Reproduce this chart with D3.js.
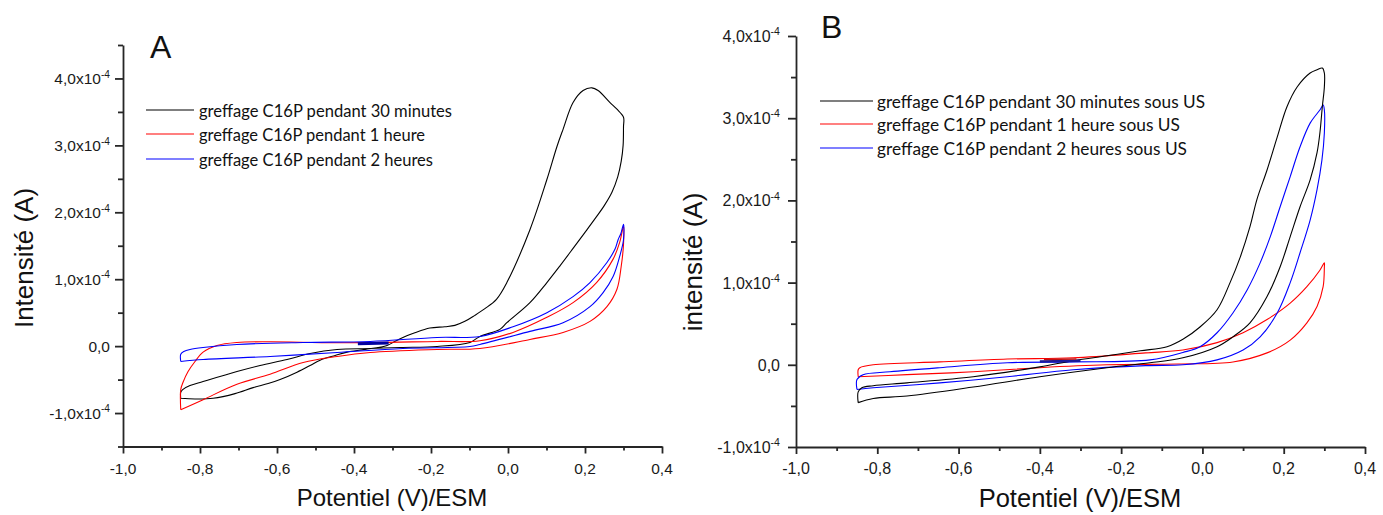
<!DOCTYPE html>
<html><head><meta charset="utf-8">
<script src="https://cdn.jsdelivr.net/npm/d3@7"></script>
<style>body{margin:0;background:#fff} svg{display:block}</style>
</head><body><svg id="c" width="1383" height="515"></svg>
<script>
const unit = 1e-4; // currents below are given in units of 1e-4 A
const xTickValues = [-1.0,-0.8,-0.6,-0.4,-0.2,0.0,0.2,0.4];
const xTickLabels = ["-1,0","-0,8","-0,6","-0,4","-0,2","0,0","0,2","0,4"];
const xMinorValues = [-0.9,-0.7,-0.5,-0.3,-0.1,0.1,0.3];
const yTickValues = [-1,0,1,2,3,4];
const yTickLabels = ["-1,0x10","0,0","1,0x10","2,0x10","3,0x10","4,0x10"];
const yTickExp = ["-4","","-4","-4","-4","-4"];
const yMinorA = [-1.5,-0.5,0.5,1.5,2.5,3.5,4.5];
const yMinorB = [-0.5,0.5,1.5,2.5,3.5];

const legendA = ["greffage C16P pendant 30 minutes","greffage C16P pendant 1 heure","greffage C16P pendant 2 heures"];
const legendB = ["greffage C16P pendant 30 minutes sous US","greffage C16P pendant 1 heure sous US","greffage C16P pendant 2 heures sous US"];

// Panel A: [potential V, current 1e-4 A]
const A_30min = [[-0.85,-0.78],[-0.813,-0.79],[-0.766,-0.78],[-0.709,-0.71],[-0.662,-0.62],[-0.623,-0.56],[-0.592,-0.50],[-0.548,-0.39],[-0.514,-0.29],[-0.488,-0.21],[-0.449,-0.14],[-0.418,-0.09],[-0.371,-0.05],[-0.314,0.01],[-0.294,0.07],[-0.273,0.13],[-0.242,0.20],[-0.203,0.27],[-0.164,0.29],[-0.138,0.31],[-0.112,0.37],[-0.086,0.46],[-0.060,0.56],[-0.03,0.70],[-0.003,0.95],[0.057,1.74],[0.101,2.49],[0.127,2.98],[0.143,3.24],[0.169,3.64],[0.195,3.82],[0.218,3.86],[0.234,3.82],[0.265,3.64],[0.283,3.54],[0.3,3.42],
 [0.3,3.28],[0.299,3.0],[0.294,2.76],[0.285,2.53],[0.27,2.3],[0.25,2.1],[0.228,1.92],[0.2,1.7],[0.169,1.46],[0.135,1.2],[0.101,0.95],[0.057,0.65],[-0.003,0.35],[-0.021,0.25],[-0.073,0.145],[-0.099,0.055],[-0.184,-0.005],[-0.28,-0.02],[-0.358,-0.035],[-0.444,-0.05],[-0.514,-0.11],[-0.574,-0.2],[-0.644,-0.29],[-0.704,-0.38],[-0.792,-0.53],[-0.826,-0.59],[-0.845,-0.65],[-0.85,-0.69],[-0.85,-0.78]];
const A_1h = [[-0.85,-0.95],[-0.792,-0.80],[-0.704,-0.57],[-0.618,-0.42],[-0.532,-0.245],[-0.444,-0.155],[-0.358,-0.095],[-0.184,-0.05],[-0.073,-0.035],[0.057,0.10],[0.143,0.205],[0.213,0.37],[0.257,0.59],[0.283,0.85],[0.294,1.19],[0.3,1.52],[0.3,1.79],
 [0.29,1.55],[0.273,1.3],[0.23,0.95],[0.169,0.65],[0.101,0.43],[0.013,0.205],[-0.073,0.08],[-0.184,0.07],[-0.444,0.05],[-0.618,0.065],[-0.704,0.055],[-0.756,0.01],[-0.792,-0.09],[-0.813,-0.23],[-0.831,-0.38],[-0.844,-0.54],[-0.85,-0.65],[-0.85,-0.95]];
const A_2h = [[-0.85,-0.23],[-0.792,-0.2],[-0.618,-0.155],[-0.444,-0.095],[-0.273,-0.035],[-0.099,-0.005],[-0.073,0.025],[0.057,0.22],[0.143,0.35],[0.213,0.59],[0.247,0.80],[0.273,1.04],[0.29,1.34],[0.3,1.59],[0.3,1.82],
 [0.293,1.68],[0.286,1.59],[0.278,1.45],[0.257,1.25],[0.213,0.95],[0.169,0.74],[0.101,0.50],[0.013,0.29],[-0.073,0.145],[-0.184,0.13],[-0.358,0.07],[-0.532,0.055],[-0.704,0.025],[-0.792,-0.02],[-0.826,-0.05],[-0.842,-0.08],[-0.85,-0.12],[-0.85,-0.23]];
const A_start = [[-0.39,0.035],[-0.31,0.045]];

// Panel B
const B_30min = [[-0.847,-0.46],[-0.81,-0.41],[-0.727,-0.38],[-0.564,-0.27],[-0.4,-0.145],[-0.235,-0.035],[-0.129,0.025],[-0.048,0.085],[0.036,0.22],[0.075,0.34],[0.117,0.51],[0.159,0.83],[0.191,1.19],[0.216,1.56],[0.24,1.92],[0.265,2.25],[0.282,2.58],[0.289,2.82],[0.295,3.14],[0.3,3.38],[0.3,3.55],[0.295,3.61],
 [0.282,3.59],[0.265,3.55],[0.233,3.38],[0.208,3.14],[0.184,2.77],[0.159,2.37],[0.134,2.01],[0.117,1.68],[0.093,1.31],[0.068,1.00],[0.036,0.67],[-0.006,0.46],[-0.048,0.31],[-0.087,0.22],[-0.153,0.17],[-0.235,0.11],[-0.318,0.05],[-0.4,-0.025],[-0.564,-0.145],[-0.727,-0.22],[-0.81,-0.255],[-0.838,-0.28],[-0.847,-0.33],[-0.847,-0.46]];
const B_1h = [[-0.847,-0.145],[-0.727,-0.12],[-0.564,-0.085],[-0.4,-0.035],[-0.235,0.0],[-0.06,0.01],[0.075,0.035],[0.159,0.145],[0.216,0.30],[0.257,0.51],[0.282,0.71],[0.297,0.95],[0.3,1.19],[0.3,1.24],
 [0.289,1.15],[0.257,0.95],[0.216,0.75],[0.159,0.55],[0.1,0.39],[0.036,0.27],[-0.048,0.18],[-0.14,0.145],[-0.318,0.085],[-0.48,0.07],[-0.646,0.035],[-0.81,0.0],[-0.843,-0.035],[-0.847,-0.06],[-0.847,-0.145]];
const B_2h = [[-0.85,-0.30],[-0.81,-0.28],[-0.646,-0.22],[-0.48,-0.145],[-0.318,-0.06],[-0.14,-0.01],[-0.048,0.0],[0.036,0.06],[0.1,0.18],[0.142,0.34],[0.184,0.63],[0.216,1.0],[0.24,1.36],[0.265,1.76],[0.282,2.13],[0.294,2.49],[0.3,2.82],[0.3,3.1],[0.297,3.16],
 [0.289,3.1],[0.265,2.94],[0.24,2.65],[0.216,2.29],[0.191,1.92],[0.167,1.56],[0.142,1.24],[0.11,0.91],[0.075,0.63],[0.036,0.39],[-0.006,0.22],[-0.048,0.15],[-0.129,0.06],[-0.318,0.035],[-0.48,0.025],[-0.646,-0.035],[-0.769,-0.085],[-0.835,-0.12],[-0.85,-0.18],[-0.85,-0.30]];
const B_start_blue = [[-0.4,0.04],[-0.3,0.05]];
const B_start_red = [[-0.39,0.065],[-0.31,0.07]];

const svg = d3.select("#c");
const AX = "#262626";

function panel(cfg){
  const g = svg.append("g");
  const x = d3.scaleLinear().domain([-1,0.4]).range(cfg.xr);
  const y = d3.scaleLinear().domain(cfg.yd.map(v=>v*unit)).range(cfg.yr);
  const x0 = cfg.xr[0], yb = cfg.yr[0];
  const ax = g.append("g").attr("transform",`translate(0,${yb})`)
    .call(d3.axisBottom(x).tickValues(xTickValues).tickSize(7).tickSizeOuter(0).tickFormat(""));
  const axm = g.append("g").attr("transform",`translate(0,${yb})`)
    .call(d3.axisBottom(x).tickValues(xMinorValues).tickSize(4).tickSizeOuter(0).tickFormat(""));
  const ay = g.append("g").attr("transform",`translate(${x0},0)`)
    .call(d3.axisLeft(y).tickValues(yTickValues.map(v=>v*unit)).tickSize(8).tickSizeOuter(0).tickFormat(""));
  const aym = g.append("g").attr("transform",`translate(${x0},0)`)
    .call(d3.axisLeft(y).tickValues(cfg.yMinor.map(v=>v*unit)).tickSize(5).tickSizeOuter(0).tickFormat(""));
  [ax,axm,ay,aym].forEach(a=>{a.selectAll("path,line").attr("stroke",AX).attr("stroke-width",1.8);});
  axm.select("path").remove(); aym.select("path").remove();
  g.selectAll(null).data(xTickValues).enter().append("text")
    .attr("x",d=>x(d)).attr("y",cfg.xLabY).attr("text-anchor","middle")
    .attr("font-family","Liberation Sans, Arial, sans-serif").attr("font-size",cfg.tfs).attr("fill","#1a1a1a")
    .text((d,i)=>xTickLabels[i]);
  yTickValues.forEach((v,i)=>{
    const t = g.append("text").attr("x",x0-cfg.yLabOff).attr("y",y(v*unit)+cfg.tfs*0.37)
      .attr("text-anchor","end").attr("font-family","Liberation Sans, Arial, sans-serif")
      .attr("font-size",cfg.tfs).attr("fill","#1a1a1a");
    t.append("tspan").text(yTickLabels[i]);
    if(yTickExp[i]) t.append("tspan").attr("dy",-cfg.tfs*0.42).attr("font-size",cfg.tfs*0.66).text(yTickExp[i]);
  });
  g.append("text").attr("x",cfg.xTitleX).attr("y",cfg.xTitleY).attr("text-anchor","middle")
    .attr("font-family","Liberation Sans, Arial, sans-serif").attr("font-size",cfg.titleFs).attr("fill","#111")
    .text("Potentiel (V)/ESM");
  g.append("text").attr("transform",`translate(${cfg.yTitleX},${cfg.yTitleY}) rotate(-90)`).attr("text-anchor","middle")
    .attr("font-family","Liberation Sans, Arial, sans-serif").attr("font-size",cfg.yTitleFs).attr("fill","#111")
    .text(cfg.yTitle);
  g.append("text").attr("x",cfg.letterX).attr("y",cfg.letterY)
    .attr("font-family","Liberation Sans, Arial, sans-serif").attr("font-size",32).attr("fill","#111").text(cfg.letter);
  const line = d3.line().x(d=>x(d[0])).y(d=>y(d[1]*unit)).curve(d3.curveCatmullRom.alpha(0.5));
  cfg.series.forEach(s=>{
    g.append("path").attr("d",line(s.data)).attr("fill","none").attr("stroke",s.color).attr("stroke-width",s.w||1.1).attr("stroke-linejoin","round");
  });
  cfg.legend.forEach((lab,i)=>{
    const ly = cfg.legY[i];
    g.append("line").attr("x1",cfg.legX1).attr("x2",cfg.legX2).attr("y1",ly).attr("y2",ly)
      .attr("stroke",cfg.legColors[i]).attr("stroke-width",cfg.legW[i]);
    g.append("text").attr("x",cfg.legTX).attr("y",ly+cfg.legDy).attr("font-family","Lato, 'Open Sans', sans-serif")
      .attr("font-size",cfg.legFs).attr("fill","#111").attr("textLength",cfg.legLen[i]).attr("lengthAdjust","spacingAndGlyphs").text(lab);
  });
}

panel({xr:[123,662], yr:[446.5,45], yd:[-1.5,4.5], yMinor:yMinorA, tfs:15.5, yLabOff:13, xLabY:474,
  xTitleX:392, xTitleY:506, titleFs:24, yTitleFs:26, yTitleX:33, yTitleY:258, yTitle:"Intensité (A)", letter:"A", letterX:150, letterY:58,
  series:[{data:A_30min,color:"#000"},{data:A_1h,color:"#ff0000"},{data:A_2h,color:"#0000ff"},{data:A_start,color:"#0000a0",w:3}],
  legend:legendA, legY:[110,134,159], legX1:146, legX2:194, legTX:199, legDy:6.5, legFs:16.5, legLen:[253,226,234],
  legColors:["#000","#ff0000","#0000ff"], legW:[1.2,1.2,1.2]});

panel({xr:[796,1365], yr:[447,36], yd:[-1,4], yMinor:yMinorB, tfs:16, yLabOff:16, xLabY:474,
  xTitleX:1080, xTitleY:507, titleFs:25.5, yTitleFs:26, yTitleX:702, yTitleY:262, yTitle:"intensité (A)", letter:"B", letterX:821, letterY:38,
  series:[{data:B_1h,color:"#ff0000"},{data:B_2h,color:"#0000ff"},{data:B_30min,color:"#000"},{data:B_start_blue,color:"#1a1a9a",w:2.5},{data:B_start_red,color:"#c01010",w:1.5}],
  legend:legendB, legY:[101,124,148], legX1:820, legX2:873, legTX:877, legDy:7, legFs:17, legLen:[328,303,310],
  legColors:["#000","#ff8080","#0000ff"], legW:[1.2,2.2,1.2]});
</script></body></html>
